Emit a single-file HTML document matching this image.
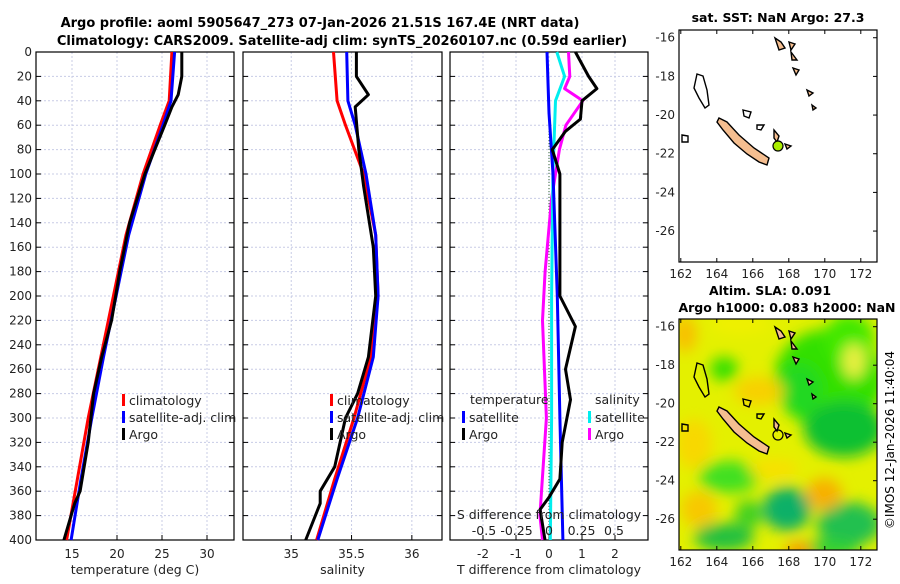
<!DOCTYPE html>
<html><head><meta charset="utf-8"><style>
body{margin:0;background:#fff;width:900px;height:580px;overflow:hidden;font-family:"DejaVu Sans","Liberation Sans",sans-serif}
svg text{font-family:"DejaVu Sans","Liberation Sans",sans-serif}
</style></head><body>
<svg id="c" width="900" height="580" viewBox="0 0 900 580">
<defs><filter id="bl" x="-50%" y="-50%" width="200%" height="200%"><feGaussianBlur stdDeviation="7"/></filter>
<clipPath id="mc"><rect x="680" y="319" width="197" height="231"/></clipPath></defs>
<text x="320" y="27" text-anchor="middle" font-size="13" font-weight="bold">Argo profile: aoml 5905647_273 07-Jan-2026 21.51S 167.4E (NRT data)</text>
<text x="342" y="45" text-anchor="middle" font-size="13" font-weight="bold">Climatology: CARS2009. Satellite-adj clim: synTS_20260107.nc (0.59d earlier)</text>
<g id="plots"></g>
<g id="maps"></g>
<text transform="translate(894,440) rotate(-90)" text-anchor="middle" font-size="12">©IMOS 12-Jan-2026 11:40:04</text>
</svg>
<script>
const depthTicks=[0,20,40,60,80,100,120,140,160,180,200,220,240,260,280,300,320,340,360,380,400];
const tDepth=[0,20,35,45,60,80,100,140,180,220,250,280,320,360,370,400];
const tArgo=[27.2,27.2,26.8,26.1,25.3,24.2,23.1,21.4,20.3,19.4,18.3,17.4,16.8,15.9,15.3,14.1];
const cDepth=[0,40,60,100,150,200,250,300,350,400];
const tClim=[26.1,25.8,24.8,22.9,21.0,19.6,18.2,16.8,15.6,14.4];
const tSat=[26.4,26.0,25.1,23.2,21.3,19.9,18.5,17.2,16.0,14.9];
const sArgo=[35.54,35.54,35.64,35.53,35.56,35.6,35.68,35.7,35.64,35.55,35.45,35.36,35.24,35.24,35.12];
const sArgoDepth=[0,20,35,45,80,110,160,200,250,280,300,340,360,370,400];
const sClim=[35.35,35.38,35.45,35.6,35.7,35.72,35.66,35.52,35.36,35.21];
const sSat=[35.46,35.47,35.53,35.62,35.7,35.72,35.68,35.55,35.38,35.22];
const dDepth=[0,20,30,40,55,65,80,100,150,200,225,260,285,320,350,365,375,400];
const dTArgo=[0.8,1.2,1.45,1.0,0.95,0.5,0.1,0.33,0.33,0.33,0.8,0.5,0.65,0.4,0.33,0,-0.27,-0.12];
const dTSatDepth=[0,50,100,200,300,400];
const dTSat=[-0.06,0.0,0.12,0.25,0.33,0.42];
const dSSatDepth=[0,20,40,100,200,300,400];
const dSSat=[0.06,0.12,0.05,0.03,0.02,0.02,0.01];
const dSArgoDepth=[0,20,30,40,60,80,120,180,220,300,380,400];
const dSArgo=[0.15,0.16,0.12,0.26,0.13,0.08,0.02,-0.03,-0.05,-0.02,-0.07,-0.05];
const NS='http://www.w3.org/2000/svg';
function mk(tag,attrs,parent){const e=document.createElementNS(NS,tag);for(const k in attrs)e.setAttribute(k,attrs[k]);parent.appendChild(e);return e;}
const P=document.getElementById('plots');
const y0=52,y1=540;const yS=d=>y0+(d/400)*(y1-y0);
function panel(x0,x1,vmin,vmax,ticks,tlabels,name,xlabel,showY){
  const xs=v=>x0+(v-vmin)/(vmax-vmin)*(x1-x0);
  const g=mk('g',{},P);
  depthTicks.forEach(d=>{const l=mk('line',{x1:x0,x2:x1,y1:yS(d),y2:yS(d),stroke:'#c8cce6','stroke-dasharray':'2,2','stroke-width':1},g);
    mk('line',{x1:x0,x2:x0+5,y1:yS(d),y2:yS(d),stroke:'#000'},g);mk('line',{x1:x1-5,x2:x1,y1:yS(d),y2:yS(d),stroke:'#000'},g);
    if(showY){const t=mk('text',{x:x0-4,y:yS(d)+4,'text-anchor':'end','font-size':12,fill:'#222'},g);t.textContent=d;}});
  ticks.forEach((v,i)=>{const l=mk('line',{x1:xs(v),x2:xs(v),y1:y0,y2:y1,stroke:'#c8cce6','stroke-dasharray':'2,2'},g);
    mk('line',{x1:xs(v),x2:xs(v),y1:y1,y2:y1-5,stroke:'#000'},g);
    const t=mk('text',{x:xs(v),y:558,'text-anchor':'middle','font-size':12,fill:'#222'},g);t.textContent=tlabels[i];});
  const r=mk('rect',{x:x0,y:y0,width:x1-x0,height:y1-y0,fill:'none',stroke:'#000','stroke-width':1.2},g);
  const t=mk('text',{x:(x0+x1)/2,y:574,'text-anchor':'middle','font-size':12.5,fill:'#222'},g);t.textContent=xlabel;
  return {g,xs};
}
function line(pn,xs,depths,vals,color,name,w){const pts=depths.map((d,i)=>xs(vals[i]).toFixed(1)+','+yS(d).toFixed(1)).join(' ');const l=mk('polyline',{points:pts,fill:'none',stroke:color,'stroke-width':w||3,'stroke-linejoin':'round'},pn);}
function leg(g,x,y,color,label){const r=mk('rect',{x:x,y:y-10,width:3,height:12,fill:color},g);const t=mk('text',{x:x+7,y:y+1,'font-size':12.5,fill:'#222'},g);t.textContent=label;}
const p1=panel(36,234,11,33,[15,20,25,30],['15','20','25','30'],'temperature-panel','temperature (deg C)',true);
line(p1.g,p1.xs,cDepth,tClim,'#f00','temp-climatology-line');
line(p1.g,p1.xs,cDepth,tSat,'#00f','temp-satellite-line');
line(p1.g,p1.xs,tDepth,tArgo,'#000','temp-argo-line');
leg(p1.g,122,404,'#f00','climatology');leg(p1.g,122,421,'#00f','satellite-adj. clim');leg(p1.g,122,438,'#000','Argo');
const p2=panel(243,442,34.6,36.25,[35,35.5,36],['35','35.5','36'],'salinity-panel','salinity',false);
line(p2.g,p2.xs,cDepth,sClim,'#f00','sal-climatology-line');
line(p2.g,p2.xs,cDepth,sSat,'#00f','sal-satellite-line');
line(p2.g,p2.xs,sArgoDepth,sArgo,'#000','sal-argo-line');
leg(p2.g,330,404,'#f00','climatology');leg(p2.g,330,421,'#00f','satellite-adj. clim');leg(p2.g,330,438,'#000','Argo');
const p3=panel(450,648,-3,3,[-2,-1,0,1,2],['-2','-1','0','1','2'],'difference-panel','T difference from climatology',false);
const sxs=v=>549+v*130;
mk('line',{x1:549,x2:549,y1:yS(50),y2:y1,stroke:'#363','stroke-dasharray':'1,2'},p3.g);
line(p3.g,sxs,dSArgoDepth,dSArgo,'#f0f','sal-diff-argo-line');
line(p3.g,sxs,dSSatDepth,dSSat,'#0ee','sal-diff-satellite-line');
line(p3.g,p3.xs,dTSatDepth,dTSat,'#00f','temp-diff-satellite-line');
line(p3.g,p3.xs,dDepth,dTArgo,'#000','temp-diff-argo-line');
[['temperature',470,404],['salinity',595,404]].forEach(a=>{const t=mk('text',{x:a[1],y:a[2],'font-size':12.5,fill:'#222'},p3.g);t.textContent=a[0];});
leg(p3.g,462,421,'#00f','satellite');leg(p3.g,462,438,'#000','Argo');leg(p3.g,588,421,'#0ee','satellite');leg(p3.g,588,438,'#f0f','Argo');
{const t=mk('text',{x:549,y:519,'text-anchor':'middle','font-size':12.5,fill:'#222'},p3.g);t.textContent='S difference from climatology';}
const sTicks=[-0.5,-0.25,0,0.25,0.5];
sTicks.forEach(v=>{const t=mk('text',{x:sxs(v),y:535,'text-anchor':'middle','font-size':12.5,fill:'#222'},p3.g);t.textContent=String(v);});
const M=document.getElementById('maps');
const islandShapes=[
 [[[40,88],[48,92],[60,105],[75,118],[90,128],[88,135],[80,132],[68,124],[55,113],[44,100],[38,92]],true],
 [[[18,44],[24,46],[28,60],[30,75],[26,78],[20,68],[15,58]],false],
 [[[3,105],[9,106],[9,112],[3,112]],false],
 [[[64,80],[72,82],[70,88],[65,86]],false],
 [[[78,95],[85,95],[82,100],[78,99]],false],
 [[[95,100],[100,106],[98,112],[95,108]],true],
 [[[106,114],[112,116],[108,119]],true],
 [[[96,8],[102,12],[106,18],[100,20]],true],
 [[[110,12],[116,14],[112,20]],true],
 [[[112,22],[118,30],[113,30]],true],
 [[[114,38],[120,40],[117,45]],true],
 [[[128,60],[134,63],[130,66]],true],
 [[[133,75],[137,78],[134,80]],true]];
function map(top,bot,latTop,latBot,name,heat){
  const x0=679,x1=877;const lx=l=>x0+(l-161.9)/(172.9-161.9)*(x1-x0);const ly=l=>top+(latTop-l)/(latTop-latBot)*(bot-top);
  const g=mk('g',{},M);
  if(heat){mk('rect',{x:x0,y:top,width:x1-x0,height:bot-top,fill:'#e4f000'},g);
    const hg=mk('g',{'clip-path':'url(#mc)'},g);const hb=mk('g',{filter:'url(#bl)'},hg);
    [[150,60,55,50,'#30e000'],[170,20,25,25,'#40e800'],[175,42,12,18,'#e8f040'],[45,50,14,12,'#30e000'],[165,110,40,28,'#10c030'],[120,70,22,25,'#20d820'],
     [50,158,30,16,'#40e020'],[108,190,24,22,'#10b068'],[70,195,14,14,'#40d020'],[170,205,32,22,'#20c050'],[45,218,30,14,'#20c040'],[150,230,30,10,'#30d030'],
     [6,15,12,18,'#f8c000'],[145,175,18,16,'#f8b000'],[120,232,14,8,'#f89000'],[15,125,18,25,'#f8d800'],[80,72,25,14,'#f8d000'],[20,190,18,18,'#f8c800'],[95,150,25,10,'#f8e000'],[60,5,30,10,'#f0f000']]
    .forEach(b=>{const e=mk('ellipse',{cx:x0+b[0],cy:top+b[1],rx:b[2],ry:b[3],fill:b[4]},hb);});}
  const isl=mk('g',{stroke:'#000','stroke-width':1.4},g);
  islandShapes.forEach(s=>mk('polygon',{points:s[0].map(p=>(x0+p[0])+','+(top+p[1])).join(' '),fill:s[1]?'#f5be90':'none'},isl));
  const dot=mk('circle',{cx:x0+99,cy:top+116,r:5,fill:heat?'none':'#aaee00',stroke:'#000','stroke-width':1.2},g);
  mk('rect',{x:x0,y:top,width:x1-x0,height:bot-top,fill:'none',stroke:'#000','stroke-width':1.2},g);
  [162,164,166,168,170,172].forEach(v=>{mk('line',{x1:lx(v),x2:lx(v),y1:bot,y2:bot-4,stroke:'#000'},g);mk('line',{x1:lx(v),x2:lx(v),y1:top,y2:top+4,stroke:'#000'},g);const t=mk('text',{x:lx(v),y:bot+16,'text-anchor':'middle','font-size':12,fill:'#222'},g);t.textContent=v;});
  [-16,-18,-20,-22,-24,-26].forEach(v=>{mk('line',{x1:x1,x2:x1-4,y1:ly(v),y2:ly(v),stroke:'#000'},g);const t=mk('text',{x:x0-4,y:ly(v)+4,'text-anchor':'end','font-size':12,fill:'#222'},g);t.textContent=v;});
}
map(30,262,-15.6,-27.6,'sst-map',false);
map(319,550,-15.6,-27.6,'sla-map',true);
[['sat. SST: NaN Argo: 27.3',778,22],['Altim. SLA: 0.091',770,295],['Argo h1000: 0.083 h2000: NaN',787,312]].forEach(a=>{const t=mk('text',{x:a[1],y:a[2],'text-anchor':'middle','font-size':12.5,'font-weight':'bold'},M);t.textContent=a[0];});
</script>
</body></html>
